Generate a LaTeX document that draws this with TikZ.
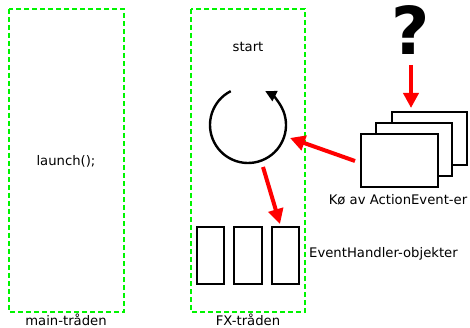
\documentclass[tikz,border=0pt]{standalone}
\usepackage{fontspec}
\setmainfont{DejaVu Sans}
\usetikzlibrary{arrows.meta}
\definecolor{fxgreen}{RGB}{0,245,0}
\begin{document}
\begin{tikzpicture}[x=1pt,y=-1pt,
  thread/.style={draw=fxgreen,line width=2.6pt,dash pattern=on 5pt off 3pt},
  handler/.style={draw=black,line width=2pt,fill=white},
  card/.style={draw=black,line width=2pt,fill=white},
  redarrow/.style={draw=red,line width=4pt,-{Triangle[length=15pt,width=15pt]}},
  lbl/.style={font=\fontsize{13.2}{15}\selectfont,inner sep=0pt}]
\useasboundingbox (0,0) rectangle (470,328);
% threads
\draw[thread] (9,9) rectangle (124,312);
\draw[thread] (191,9) rectangle (305,312);
\node[lbl] (mainlbl) at (66,320) {main-tråden};
\node[lbl] (fxlbl) at (248,320) {FX-tråden};
\node[lbl] (launch) at (66,161) {launch();};
\node[lbl] (start) at (248,47) {start};
% loop
\coordinate (loopc) at (248,125);
\draw[line width=2.4pt,-{Triangle[length=11pt,width=11pt]}] (loopc) ++(-117:38) arc[start angle=-117,end angle=-423,radius=38];
% handlers
\node[handler,minimum width=27pt,minimum height=57pt,inner sep=0pt] (h1) at (210.5,255.5) {};
\node[handler,minimum width=28pt,minimum height=57pt,inner sep=0pt] (h2) at (248,255.5) {};
\node[handler,minimum width=27pt,minimum height=57pt,inner sep=0pt] (h3) at (285.5,255.5) {};
\node[lbl,anchor=west] (ehlbl) at (309,254) {EventHandler-objekter};
% cards
\node[card,minimum width=75pt,minimum height=53pt,inner sep=0pt] (c3) at (429.5,138.5) {};
\node[card,minimum width=76pt,minimum height=53pt,inner sep=0pt] (c2) at (414,149.5) {};
\node[card,minimum width=77pt,minimum height=53pt,inner sep=0pt] (c1) at (399.5,160.5) {};
\node[lbl] (kolbl) at (398,200) {Kø av ActionEvent-er};
% question mark
\node[font=\fontsize{66}{66}\selectfont\bfseries,inner sep=0pt] (q) at (411,30) {?};
% red arrows
\coordinate (qa) at (411,65);
\coordinate (qb) at (411,108);
\coordinate (ka) at (355,161);
\coordinate (kb) at (290,138);
\coordinate (la) at (263,167);
\coordinate (lb) at (280,224);
\draw[redarrow] (qa) -- (qb);
\draw[redarrow] (ka) -- (kb);
\draw[redarrow] (la) -- (lb);
\end{tikzpicture}
\end{document}
